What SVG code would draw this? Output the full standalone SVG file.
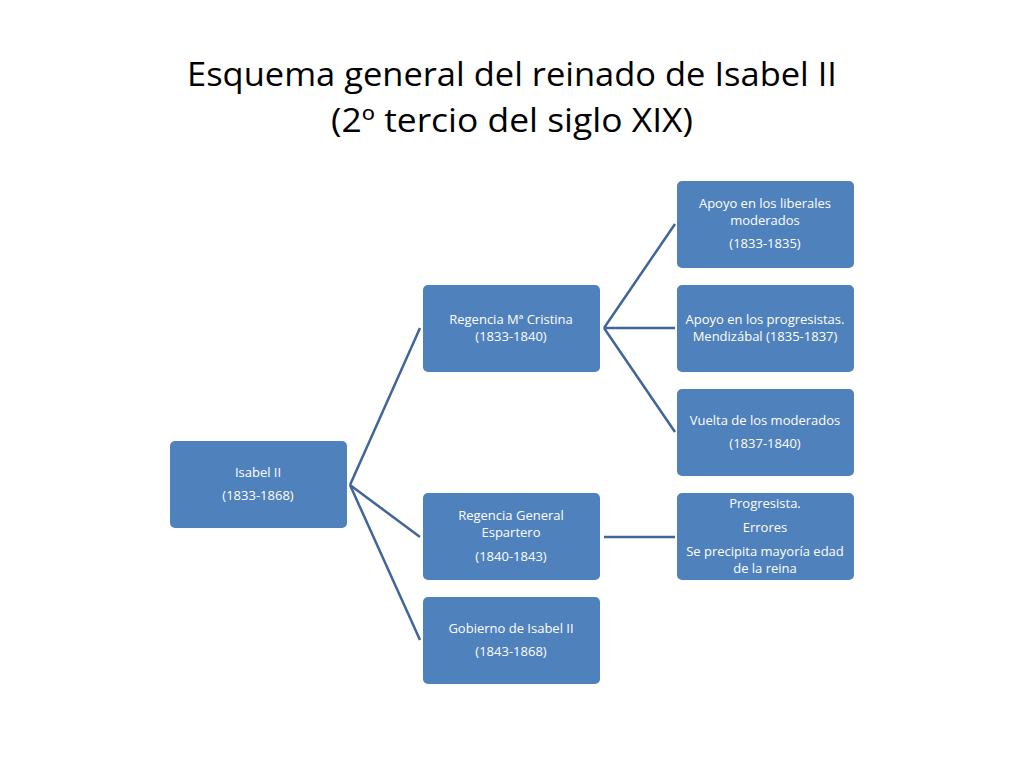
<svg xmlns="http://www.w3.org/2000/svg" width="1024" height="768" viewBox="0 0 1024 768">
<style>
.n{fill:#4f81bd;}
.t{fill:#fff;font-family:"Open Sans","Liberation Sans",sans-serif;font-size:13px;text-anchor:middle;}
.h{fill:#000;font-family:"Open Sans","Liberation Sans",sans-serif;font-size:32px;text-anchor:middle;}
.c{stroke:#40659a;stroke-width:2.5;fill:none;}
</style>
<rect width="1024" height="768" fill="#fff"/>
<text class="h" x="512" y="86" textLength="650" lengthAdjust="spacingAndGlyphs">Esquema general del reinado de Isabel II</text>
<text class="h" x="512" y="132" textLength="362" lengthAdjust="spacingAndGlyphs">(2º tercio del siglo XIX)</text>
<g id="connectors">
<path class="c" d="M350 485 L420 328 M350 485 L420 537 M350 485 L420 640"/>
<path class="c" d="M604 328 L675 224 M604 328 L675 328 M604 328 L675 432 M604 537 L675 537"/>
</g>
<g id="isabel"><rect class="n" x="170" y="441" width="177" height="87" rx="5"/>
<text class="t" x="258" y="477">Isabel II</text><text class="t" x="258" y="500">(1833-1868)</text></g>
<g id="cristina"><rect class="n" x="423" y="285" width="177" height="87" rx="5"/>
<text class="t" x="511" y="324">Regencia Mª Cristina</text><text class="t" x="511" y="341">(1833-1840)</text></g>
<g id="espartero"><rect class="n" x="423" y="493" width="177" height="87" rx="5"/>
<text class="t" x="511" y="520">Regencia General</text><text class="t" x="511" y="537">Espartero</text><text class="t" x="511" y="561">(1840-1843)</text></g>
<g id="gobierno"><rect class="n" x="423" y="597" width="177" height="87" rx="5"/>
<text class="t" x="511" y="633">Gobierno de Isabel II</text><text class="t" x="511" y="656">(1843-1868)</text></g>
<g id="liberales"><rect class="n" x="677" y="181" width="177" height="87" rx="5"/>
<text class="t" x="765" y="208">Apoyo en los liberales</text><text class="t" x="765" y="225">moderados</text><text class="t" x="765" y="248">(1833-1835)</text></g>
<g id="progresistas"><rect class="n" x="677" y="285" width="177" height="87" rx="5"/>
<text class="t" x="765" y="324">Apoyo en los progresistas.</text><text class="t" x="765" y="341">Mendizábal (1835-1837)</text></g>
<g id="vuelta"><rect class="n" x="677" y="389" width="177" height="87" rx="5"/>
<text class="t" x="765" y="425">Vuelta de los moderados</text><text class="t" x="765" y="448">(1837-1840)</text></g>
<g id="progresista"><rect class="n" x="677" y="493" width="177" height="87" rx="5"/>
<text class="t" x="765" y="508">Progresista.</text><text class="t" x="765" y="532">Errores</text><text class="t" x="765" y="556">Se precipita mayoría edad</text><text class="t" x="765" y="573">de la reina</text></g>
</svg>
